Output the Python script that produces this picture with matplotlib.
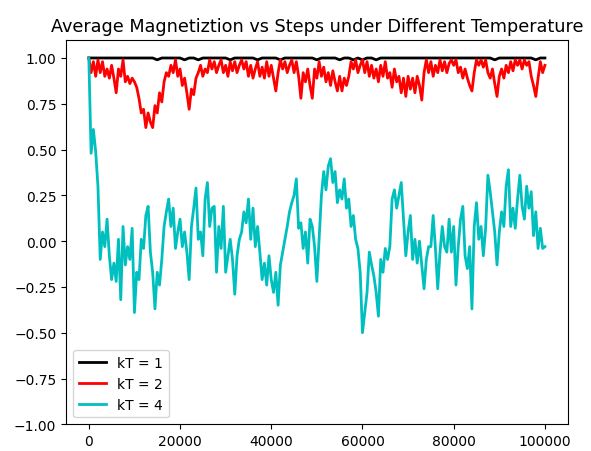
import matplotlib
matplotlib.use('Agg')
import matplotlib.pyplot as plt

# steps at which magnetization was recorded
steps = list(range(0, 100001, 500))
steps_kt1 = list(range(0, 100001, 1000))

# kT = 1 : stays almost fully magnetized
mag_kt1 = [1.0, 1.0, 1.0, 1.0, 1.0, 1.0, 1.0, 1.0, 1.0, 1.0,
           1.0, 1.0, 1.0, 1.0, 1.0, 0.99, 1.0, 1.0, 1.0, 1.0,
           1.0, 0.99, 1.0, 1.0, 0.99, 1.0, 1.0, 1.0, 1.0, 1.0,
           1.0, 0.99, 1.0, 1.0, 1.0, 1.0, 1.0, 0.99, 1.0, 1.0,
           1.0, 1.0, 0.99, 1.0, 1.0, 1.0, 1.0, 1.0, 1.0, 1.0,
           0.99, 1.0, 1.0, 1.0, 1.0, 0.99, 1.0, 1.0, 0.99, 1.0,
           0.99, 1.0, 1.0, 0.99, 1.0, 1.0, 1.0, 1.0, 1.0, 1.0,
           1.0, 1.0, 1.0, 1.0, 1.0, 1.0, 1.0, 1.0, 1.0, 1.0,
           1.0, 1.0, 1.0, 1.0, 1.0, 1.0, 1.0, 1.0, 1.0, 0.99,
           1.0, 1.0, 1.0, 1.0, 1.0, 1.0, 1.0, 1.0, 0.99, 1.0,
           1.0]

# kT = 2
mag_kt2 = [1.0, 0.92, 0.98, 0.90, 0.99, 0.92, 0.98, 0.90, 0.94, 0.89,
           0.96, 0.89, 0.81, 0.94, 0.90, 0.99, 0.87, 0.90, 0.86, 0.89,
           0.87, 0.84, 0.78, 0.70, 0.72, 0.62, 0.70, 0.65, 0.62, 0.74,
           0.70, 0.81, 0.76, 0.87, 0.92, 0.90, 0.96, 0.92, 0.99, 0.90,
           0.94, 0.85, 0.89, 0.81, 0.72, 0.83, 0.80, 0.89, 0.92, 0.96,
           0.90, 0.94, 0.92, 0.99, 0.94, 0.98, 0.92, 0.96, 0.99, 0.92,
           0.96, 0.90, 0.98, 0.93, 0.98, 0.92, 0.96, 0.99, 0.94, 0.98,
           0.90, 0.96, 0.89, 0.94, 0.98, 0.90, 0.95, 0.89, 0.98, 0.90,
           0.96, 0.89, 0.82, 0.92, 0.99, 0.94, 0.98, 0.92, 0.96, 0.99,
           0.92, 0.98, 0.90, 0.78, 0.92, 0.87, 0.94, 0.85, 0.78, 0.94,
           0.89, 0.98, 0.90, 0.95, 0.87, 0.92, 0.85, 0.93, 0.87, 0.82,
           0.90, 0.82, 0.89, 0.85, 0.90, 0.98, 0.94, 0.99, 0.92, 0.96,
           0.99, 0.92, 0.98, 0.90, 0.96, 0.89, 0.94, 0.87, 0.96, 0.90,
           0.98, 0.89, 0.92, 0.84, 0.94, 0.87, 0.90, 0.81, 0.89, 0.79,
           0.90, 0.83, 0.89, 0.81, 0.90, 0.85, 0.77, 0.92, 0.99, 0.92,
           0.98, 0.90, 0.96, 0.92, 0.99, 0.93, 0.98, 0.92, 0.97, 0.99,
           0.96, 0.99, 0.92, 0.95, 0.89, 0.94, 0.89, 0.85, 0.82, 0.92,
           0.99, 0.96, 0.99, 0.95, 0.99, 0.92, 0.89, 0.94, 0.86, 0.79,
           0.90, 0.94, 0.89, 0.96, 0.92, 0.98, 0.93, 0.99, 0.96, 0.99,
           0.94, 0.99, 0.96, 0.98, 0.90, 0.85, 0.79, 0.89, 0.98, 0.92,
           0.96]

# kT = 4 : disordered
mag_kt4 = [1.0, 0.48, 0.61, 0.49, 0.30, -0.10, 0.05, -0.03, 0.12, -0.08,
           -0.21, -0.12, -0.22, 0.01, -0.32, 0.08, -0.13, -0.03, -0.10, 0.07,
           -0.39, -0.17, -0.21, 0.01, -0.04, 0.14, 0.19, -0.06, -0.17, -0.37,
           -0.17, -0.24, -0.10, 0.08, 0.16, 0.23, 0.08, 0.18, -0.04, 0.05,
           0.12, -0.03, 0.05, -0.06, -0.21, 0.08, 0.18, 0.29, 0.01, 0.05,
           -0.08, 0.23, 0.32, 0.08, 0.18, 0.19, -0.17, 0.08, -0.04, 0.19,
           -0.17, -0.08, 0.01, -0.10, -0.29, -0.08, 0.01, 0.05, 0.16, 0.10,
           0.23, 0.01, 0.18, -0.03, 0.08, -0.06, -0.21, -0.12, -0.24, -0.08,
           -0.21, -0.28, -0.17, -0.35, -0.13, -0.06, 0.01, 0.08, 0.16, 0.21,
           0.25, 0.34, 0.07, 0.10, -0.04, 0.05, -0.12, 0.12, 0.08, -0.03,
           -0.22, 0.01, 0.25, 0.38, 0.28, 0.41, 0.45, 0.32, 0.38, 0.21,
           0.28, 0.23, 0.34, 0.18, 0.23, 0.08, 0.14, 0.01, -0.04, -0.17,
           -0.50, -0.39, -0.28, -0.06, -0.13, -0.19, -0.28, -0.41, -0.10, -0.17,
           -0.04, -0.10, -0.03, 0.23, 0.28, 0.18, 0.25, 0.32, 0.12, -0.08,
           0.05, 0.14, -0.10, 0.01, -0.12, 0.00, -0.13, -0.26, -0.10, -0.03,
           -0.03, 0.14, -0.04, -0.26, -0.06, 0.08, -0.03, -0.06, 0.12, -0.06,
           0.08, -0.24, -0.03, 0.12, 0.19, -0.08, -0.15, -0.03, -0.37, 0.08,
           0.21, 0.01, 0.08, -0.08, 0.07, 0.36, 0.27, 0.16, 0.05, -0.13,
           0.05, 0.16, 0.08, 0.30, 0.39, 0.08, 0.18, 0.07, 0.23, 0.36,
           0.19, 0.12, 0.30, 0.18, 0.27, 0.03, 0.16, -0.04, 0.07, -0.04,
           -0.03]

fig = plt.figure(figsize=(5.91, 4.52), dpi=100)
ax = fig.add_axes([0.1117, 0.0591, 0.8489, 0.8509])

ax.plot(steps_kt1, mag_kt1, color='k', lw=2, label='kT = 1')
ax.plot(steps, mag_kt2, color='r', lw=2, label='kT = 2')
ax.plot(steps, mag_kt4, color='c', lw=2, label='kT = 4')

ax.set_xlim(-5000, 105000)
ax.set_ylim(-1, 1.1)
ax.set_title('Average Magnetiztion vs Steps under Different Temperature', fontsize=12.7)
ax.legend(loc='lower left')

plt.savefig('out.png', dpi=100)
